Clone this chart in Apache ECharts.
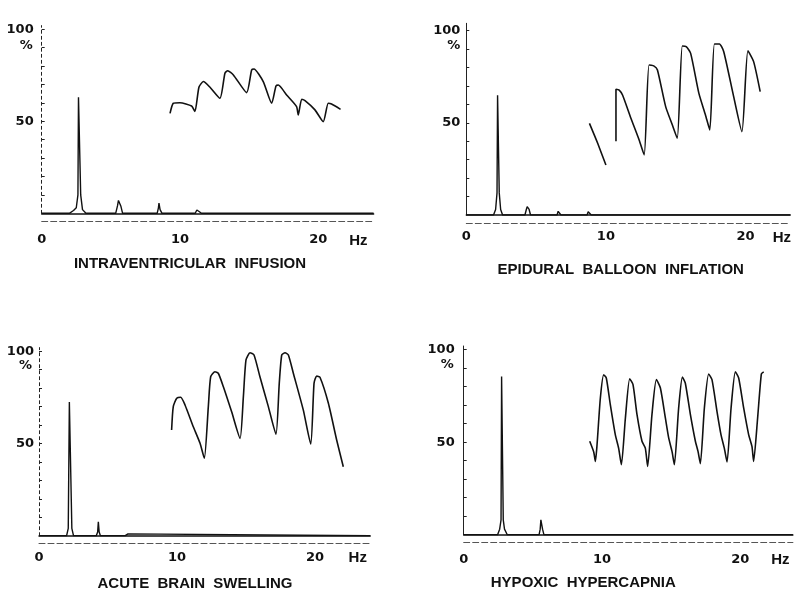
<!DOCTYPE html>
<html>
<head>
<meta charset="utf-8">
<script src="https://cdn.jsdelivr.net/npm/echarts@6/dist/echarts.min.js"></script>
<style>
  html, body { margin: 0; background: #fff; }
  #chart { width: 794px; height: 596px; }
</style>
</head>
<body>
<div id="chart"></div>
<script>
// panel titles
const titles = ['INTRAVENTRICULAR  INFUSION', 'EPIDURAL  BALLOON  INFLATION',
                'ACUTE  BRAIN  SWELLING', 'HYPOXIC  HYPERCAPNIA'];

// x tick labels (Hz) and y tick labels (%)
const xTicks = [0, 10, 20];
const yTicks = [50, 100];

// spectrum traces (Hz, %)
const p1SpecHz  = [0, 2.0, 2.3, 2.5, 2.62, 2.66, 2.78, 2.82, 2.95, 3.2, 5.35, 5.48, 5.55, 5.65, 5.72, 5.85, 8.35, 8.44, 8.48, 8.56, 8.7, 11.1, 11.22, 11.28, 11.38, 11.55, 24];
const p1SpecPct = [0, 0, 1.5, 3, 10, 63, 63, 10, 2, 0, 0, 4, 7, 7, 4, 0, 0, 3, 5.5, 2, 0, 0, 1.8, 2, 1, 0, 0];

const p2SpecHz  = [0, 1.95, 2.1, 2.2, 2.24, 2.32, 2.36, 2.46, 2.6, 4.2, 4.3, 4.36, 4.44, 4.5, 4.6, 6.5, 6.58, 6.63, 6.7, 6.78, 8.65, 8.73, 8.8, 8.86, 8.95, 23.2];
const p2SpecPct = [0, 0, 3, 12, 65, 65, 12, 3, 0, 0, 3, 4.5, 4.5, 3, 0, 0, 2, 2.5, 2, 0, 0, 1.8, 2, 1.5, 0, 0];

const p3SpecHz  = [0, 2.0, 2.12, 2.2, 2.3, 2.38, 2.5, 4.15, 4.25, 4.3, 4.36, 4.45, 6.25, 6.35, 6.45, 6.55, 24];
const p3SpecPct = [0, 0, 4, 72.5, 72.5, 4, 0, 0, 2, 7.6, 2, 0, 0, 1, 1, 0, 0];

const p4SpecHz  = [0, 2.45, 2.6, 2.7, 2.74, 2.82, 2.86, 2.95, 3.15, 5.45, 5.53, 5.58, 5.62, 5.7, 5.8, 23.8];
const p4SpecPct = [0, 0, 3, 8, 85.5, 85.5, 8, 3, 0, 0, 3, 8, 8, 3, 0, 0];

// pressure waveforms (Hz position, %)
const p1WaveHz  = [9.28, 9.52, 10.0, 10.84, 11.08, 11.37, 11.69, 12.17, 12.89, 13.25, 13.45, 13.86, 14.82, 15.18, 15.35, 16.02, 16.63, 16.94, 17.11, 17.71, 18.43, 18.55, 18.80, 19.04, 19.76, 20.36, 20.72, 20.96, 21.61];
const p1WavePct = [54.3, 59.8, 60.1, 58.3, 55.3, 68.5, 71.6, 68.5, 62.5, 76.1, 77.5, 75.2, 65.6, 77.9, 78.4, 71.6, 59.8, 69.2, 69.7, 64.3, 58.0, 53.4, 62.0, 61.2, 56.2, 49.8, 59.8, 59.4, 56.5];

const p2WaveHz  = [8.82, 9.41, 10.0, 10.3, 10.72, 10.72, 10.95, 11.19, 11.79, 12.38, 12.74, 13.09, 13.45, 13.69, 14.28, 14.76, 15.11, 15.47, 15.75, 16.07, 16.66, 17.13, 17.44, 17.77, 18.13, 18.44, 19.15, 19.74, 20.17, 20.58, 21.05];
const p2WavePct = [49.7, 38.9, 27.1, null, 40, 68.2, 67.8, 65.1, 52.5, 40.7, 32.6, 81.4, 80.8, 78.7, 58.8, 48.8, 41.6, 91.7, 91.3, 87.7, 66.0, 54.3, 46.1, 92.8, 92.8, 88.6, 64.2, 45.2, 89.1, 83.2, 66.9];

const p3WaveHz  = [9.61, 9.73, 9.98, 10.27, 10.58, 11.18, 11.67, 11.98, 12.27, 12.44, 12.75, 12.99, 13.36, 13.96, 14.57, 14.81, 15.0, 15.29, 15.58, 16.01, 16.62, 17.17, 17.41, 17.59, 17.83, 18.07, 18.43, 19.15, 19.69, 19.93, 20.12, 20.36, 20.97, 21.57, 22.05];
const p3WavePct = [57.3, 70.0, 74.5, 75.1, 70.9, 59.1, 50.1, 42.0, 70.0, 86.2, 88.9, 88.1, 80.8, 67.2, 52.8, 75.4, 95.3, 99.2, 98.0, 86.2, 70.0, 55.0, 82.6, 98.0, 99.2, 98.0, 88.1, 68.2, 49.7, 82.6, 86.6, 85.9, 71.8, 51.9, 37.4];

const p4WaveHz  = [9.11, 9.40, 9.52, 9.64, 9.88, 10.12, 10.31, 10.60, 10.96, 11.2, 11.4, 11.69, 12.0, 12.24, 12.53, 12.89, 13.13, 13.30, 13.61, 13.93, 14.22, 14.58, 14.82, 15.06, 15.23, 15.54, 15.81, 16.02, 16.39, 16.75, 16.94, 17.11, 17.40, 17.71, 17.95, 18.31, 18.6, 18.84, 19.04, 19.33, 19.64, 19.88, 20.24, 20.60, 20.84, 20.96, 21.25, 21.52, 21.69];
const p4WavePct = [50.5, 44.7, 39.6, 48.6, 73.9, 86.5, 84.7, 70.3, 54.1, 46.8, 37.8, 63.1, 84.3, 81.1, 64.9, 50.5, 46.8, 36.9, 64.9, 83.8, 79.3, 63.1, 52.3, 45.0, 37.8, 68.5, 85.2, 82.0, 64.9, 50.5, 45.0, 38.4, 68.5, 86.9, 83.8, 66.7, 54.1, 46.8, 39.3, 68.5, 88.0, 84.7, 68.5, 54.1, 47.7, 39.6, 63.1, 86.9, 88];

const pairs = (xs, ys) => xs.map((x, i) => [x, ys[i]]);

const ink = '#111';
const digitFont = '"DejaVu Sans", sans-serif';
const titleFont = '"Liberation Sans", Arial, sans-serif';

// layout of the four panels
const panels = [
    { spec: pairs(p1SpecHz, p1SpecPct), wave: pairs(p1WaveHz, p1WavePct),
      grid: { left: 41.7, top: 25.6, width: 331.9, height: 187.7 }, xMax: 24, yMax: 102,
      hzAt: 22.9, xMargin: 20, yMargin: 8, yLine: 'dashed', pctGap: -20, pctPad: 9,
      title: { left: 190, top: 256 } },
    { spec: pairs(p2SpecHz, p2SpecPct), wave: pairs(p2WaveHz, p2WavePct),
      grid: { left: 466.3, top: 23.3, width: 325.5, height: 191.7 }, xMax: 23.2, yMax: 104,
      hzAt: 22.6, xMargin: 15, yMargin: 6, yLine: 'solid', pctGap: -22, pctPad: 6,
      title: { left: 620.7, top: 262.5 } },
    { spec: pairs(p3SpecHz, p3SpecPct), wave: pairs(p3WaveHz, p3WavePct),
      grid: { left: 39, top: 347.6, width: 331.2, height: 188.1 }, xMax: 24, yMax: 102,
      hzAt: 23.1, xMargin: 15, yMargin: 5, yLine: 'dashed', pctGap: -18, pctPad: 7,
      title: { left: 195, top: 576.5 } },
    { spec: pairs(p4SpecHz, p4SpecPct), wave: pairs(p4WaveHz, p4WavePct),
      grid: { left: 463.7, top: 346, width: 329.2, height: 188.7 }, xMax: 23.8, yMax: 102,
      hzAt: 22.9, xMargin: 18, yMargin: 9, yLine: 'solid', pctGap: -19, pctPad: 10,
      title: { left: 583.3, top: 575.5 } }
];

const chart = echarts.init(document.getElementById('chart'));

const option = {
    backgroundColor: '#fff',
    animation: false,
    title: panels.map((p, i) => ({
        text: titles[i],
        left: p.title.left,
        top: p.title.top,
        textAlign: 'center',
        padding: 0,
        textStyle: { fontFamily: titleFont, fontWeight: 'bold', fontSize: 15, color: ink }
    })),
    grid: panels.map(p => p.grid),
    xAxis: [],
    yAxis: [],
    series: []
};

panels.forEach((p, i) => {
    option.xAxis.push({
        type: 'value', gridIndex: i, min: 0, max: p.xMax,
        axisLine: { lineStyle: { color: ink, width: 1.5 } },
        axisTick: { show: false },
        splitLine: { show: false },
        axisLabel: {
            customValues: xTicks.concat([p.hzAt]),
            margin: p.xMargin,
            color: ink, fontFamily: digitFont, fontWeight: 'bold', fontSize: 13,
            formatter: v => (v === p.hzAt ? '{hz|Hz}' : String(v)),
            rich: { hz: { fontFamily: titleFont, fontWeight: 'bold', fontSize: 15, color: ink } }
        }
    });
    // dashed scale line under the baseline
    option.xAxis.push({
        type: 'value', gridIndex: i, min: 0, max: p.xMax, position: 'bottom', offset: 8,
        axisLine: { lineStyle: { color: '#555', width: 1, type: [6, 3] } },
        axisTick: { show: false },
        axisLabel: { show: false },
        splitLine: { show: false }
    });
    option.yAxis.push({
        type: 'value', gridIndex: i, min: 0, max: p.yMax,
        name: '%', nameLocation: 'end', nameGap: p.pctGap,
        nameTextStyle: { align: 'right', verticalAlign: 'middle', padding: [0, p.pctPad, 0, 0],
                         color: ink, fontFamily: digitFont, fontWeight: 'bold', fontSize: 13 },
        axisLine: { show: true, lineStyle: { color: '#222', width: 1, type: p.yLine === 'dashed' ? [3, 3] : 'solid' } },
        axisTick: { show: true, inside: true, length: 3, customValues: [10, 20, 30, 40, 50, 60, 70, 80, 90, 100],
                    lineStyle: { color: '#222' } },
        splitLine: { show: false },
        axisLabel: {
            customValues: yTicks,
            margin: p.yMargin,
            color: ink, fontFamily: digitFont, fontWeight: 'bold', fontSize: 13
        }
    });
    option.series.push({
        type: 'line', xAxisIndex: i * 2, yAxisIndex: i,
        data: p.spec, showSymbol: false, symbol: 'none',
        lineStyle: { color: ink, width: 1.4 }
    });
    option.series.push({
        type: 'line', xAxisIndex: i * 2, yAxisIndex: i,
        data: p.wave, showSymbol: false, symbol: 'none', smooth: 0.2,
        lineStyle: { color: ink, width: 1.6 }
    });
});

chart.setOption(option);
</script>
</body>
</html>
